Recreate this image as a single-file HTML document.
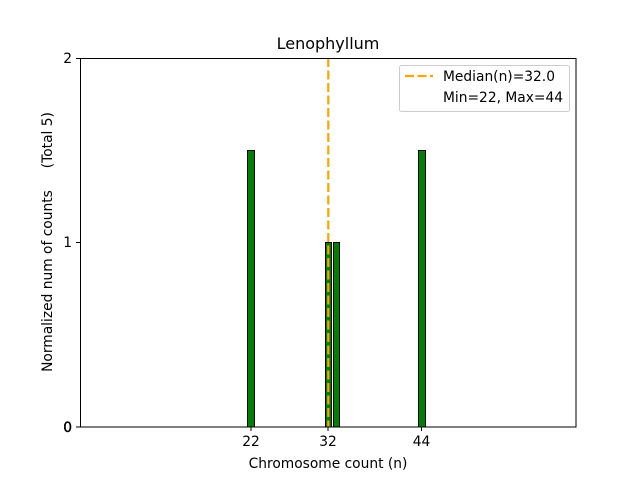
<!DOCTYPE html>
<html><head><style>body{margin:0;background:#fff}</style></head><body>
<svg width="640" height="480" xmlns="http://www.w3.org/2000/svg" font-family="DejaVu Sans, Liberation Sans, sans-serif">
<rect width="640" height="480" fill="#fff"/>
<g fill="#008000" stroke="#000" stroke-width="1">
<rect x="247.5" y="150.5" width="7" height="276.5"/>
<rect x="325.5" y="242.5" width="6" height="184.5"/>
<rect x="333.5" y="242.5" width="6" height="184.5"/>
<rect x="418.5" y="150.5" width="7" height="276.5"/>
</g>
<line x1="328.3" y1="58" x2="328.3" y2="427" stroke="#ffa500" stroke-width="2.2" stroke-dasharray="9,3.5"/>
<rect x="80.5" y="58.5" width="495.5" height="368.5" fill="none" stroke="#000" stroke-width="1"/>
<g stroke="#000"><line x1="251" y1="427" x2="251" y2="431"/><line x1="328" y1="427" x2="328" y2="431"/><line x1="421.5" y1="427" x2="421.5" y2="431"/>
<line x1="76" y1="427" x2="80" y2="427"/><line x1="76" y1="242.5" x2="80" y2="242.5"/><line x1="76" y1="58.5" x2="80" y2="58.5"/></g>
<g font-size="13.8" fill="#000" text-anchor="middle">
<text x="251" y="446">22</text><text x="328" y="446">32</text><text x="421.5" y="446">44</text>
<text x="328" y="468">Chromosome count (n)</text>
</g>
<g font-size="13.8" text-anchor="end"><text x="72" y="432" stroke="#000" stroke-width="0.4">0</text><text x="72" y="247">1</text><text x="72" y="63">2</text></g>
<text transform="translate(52,242) rotate(-90)" font-size="13.8" text-anchor="middle" xml:space="preserve" style="white-space:pre">Normalized num of counts     (Total 5)</text>
<text x="328" y="49" font-size="16" text-anchor="middle">Lenophyllum</text>
<rect x="399.5" y="65.5" width="170" height="46" rx="2" fill="#fff" stroke="#ccc"/>
<line x1="405" y1="76" x2="433" y2="76" stroke="#ffa500" stroke-width="2.2" stroke-dasharray="9,3.5"/>
<text x="443" y="81" font-size="13.8">Median(n)=32.0</text>
<text x="443" y="102" font-size="13.8">Min=22, Max=44</text>
</svg>
</body></html>
